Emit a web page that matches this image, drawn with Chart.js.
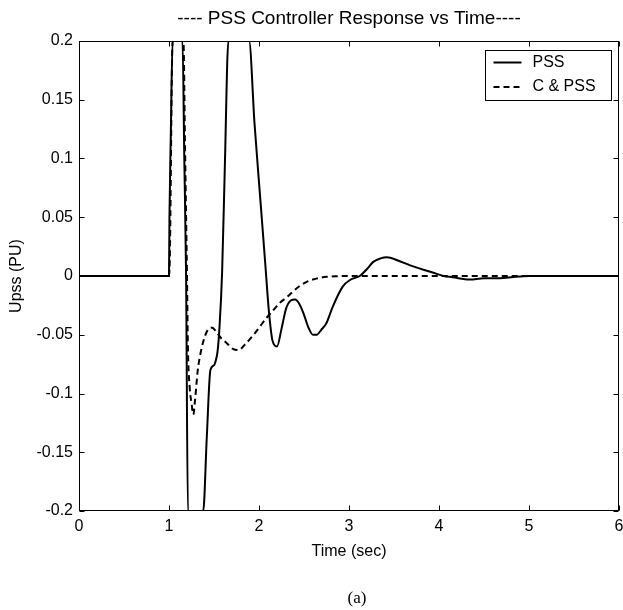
<!DOCTYPE html>
<html>
<head>
<meta charset="utf-8">
<script src="https://cdn.jsdelivr.net/npm/chart.js@4.4.1/dist/chart.umd.min.js"></script>
<style>
  html, body { margin: 0; padding: 0; background: #fff; }
  #wrap { position: relative; width: 623px; height: 610px; }
  #caption { position: absolute; left: 327px; top: 589px; width: 60px; text-align: center;
             font: 17px "Liberation Serif", "Times New Roman", serif; line-height: 17px; color: #000; }
</style>
</head>
<body>
<div id="wrap">
  <canvas id="chart" width="623" height="610"></canvas>
  <div id="caption">(a)</div>
</div>
<script>
// values (output saturates at +/-0.2 PU)
const chartTitle = '---- PSS Controller Response vs Time----';
const xTitle = 'Time (sec)';
const yTitle = 'Upss (PU)';
const seriesNames = ['PSS', 'C & PSS'];

const xTicks = [0, 1, 2, 3, 4, 5, 6];
const xTickLabels = ['0', '1', '2', '3', '4', '5', '6'];
const yTicks = [-0.2, -0.15, -0.1, -0.05, 0, 0.05, 0.1, 0.15, 0.2];
const yTickLabels = ['-0.2', '-0.15', '-0.1', '-0.05', '0', '0.05', '0.1', '0.15', '0.2'];

const pssTime = [0, 1.0, 1.005, 1.02, 1.04, 1.15, 1.17, 1.19, 1.21, 1.38, 1.42, 1.46, 1.5, 1.52,
  1.54, 1.56, 1.59, 1.62, 1.66, 1.89, 1.95, 2.02, 2.07, 2.11, 2.15, 2.2, 2.25, 2.3, 2.35, 2.4,
  2.45, 2.5, 2.55, 2.6, 2.64, 2.69, 2.75, 2.82, 2.93, 3.02, 3.12, 3.2, 3.27, 3.35, 3.42, 3.55,
  3.68, 3.8, 3.93, 4.05, 4.15, 4.34, 4.5, 4.64, 4.8, 5.0, 6.0];
const pssVal = [0, 0, 0.05, 0.12, 0.2, 0.2, 0.1, 0.0, -0.2, -0.2, -0.137, -0.08, -0.076, -0.072,
  -0.064, -0.045, 0.003, 0.092, 0.2, 0.2, 0.13, 0.06, 0.01, -0.03, -0.055, -0.06, -0.045, -0.028,
  -0.021, -0.02, -0.024, -0.033, -0.044, -0.05, -0.05, -0.046, -0.04, -0.026, -0.009, -0.003,
  0.0, 0.006, 0.012, 0.015, 0.016, 0.013, 0.009, 0.006, 0.003, 0.0, -0.001, -0.003, -0.002,
  -0.002, -0.001, 0, 0];

const cpssTime = [0, 1.0, 1.01, 1.04, 1.16, 1.18, 1.2, 1.21, 1.23, 1.25, 1.27, 1.29, 1.32, 1.35,
  1.38, 1.43, 1.48, 1.53, 1.58, 1.64, 1.71, 1.77, 1.86, 1.94, 2.01, 2.08, 2.16, 2.23, 2.31, 2.38,
  2.46, 2.53, 2.6, 2.68, 2.75, 2.85, 3.0, 6.0];
const cpssVal = [0, 0, 0.02, 0.2, 0.2, 0.1, 0.0, -0.06, -0.095, -0.108, -0.118, -0.105, -0.08,
  -0.066, -0.056, -0.046, -0.044, -0.048, -0.053, -0.057, -0.062, -0.063, -0.057, -0.05, -0.043,
  -0.036, -0.029, -0.023, -0.018, -0.013, -0.008, -0.005, -0.003, -0.0015, -0.0007, -0.0002, 0, 0];

const sans = '"Liberation Sans", Arial, sans-serif';

function toPoints(xs, ys) {
  return xs.map((t, i) => ({ x: t, y: ys[i] }));
}

// box round the plot, inward ticks on all four sides, legend inside top right
const framePlugin = {
  id: 'frame',
  afterDraw(chart) {
    const { ctx, chartArea: a, scales: { x, y } } = chart;
    const L = Math.round(a.left) + 0.5, R = Math.round(a.right) - 0.5;
    const T = Math.round(a.top) + 0.5, B = Math.round(a.bottom) - 0.5;
    ctx.save();
    ctx.strokeStyle = '#000';
    ctx.lineWidth = 1;
    ctx.setLineDash([]);
    ctx.strokeRect(L, T, R - L, B - T);
    ctx.beginPath();
    xTicks.forEach(v => {
      const px = Math.round(x.getPixelForValue(v)) + 0.5;
      ctx.moveTo(px, B); ctx.lineTo(px, B - 5);
      ctx.moveTo(px, T); ctx.lineTo(px, T + 5);
    });
    yTicks.forEach(v => {
      const py = Math.round(y.getPixelForValue(v)) + 0.5;
      ctx.moveTo(L, py); ctx.lineTo(L + 5, py);
      ctx.moveTo(R, py); ctx.lineTo(R - 5, py);
    });
    ctx.stroke();

    // legend
    const bw = 126, bh = 50;
    const bx = Math.round(a.right) - 8 - bw + 0.5, by = Math.round(a.top) + 9 + 0.5;
    ctx.fillStyle = '#fff';
    ctx.fillRect(bx, by, bw, bh);
    ctx.strokeRect(bx, by, bw, bh);
    ctx.font = '16px ' + sans;
    ctx.textBaseline = 'middle';
    chart.data.datasets.forEach((ds, i) => {
      const ly = by + 12 + i * 24.5;
      ctx.beginPath();
      ctx.lineWidth = ds.borderWidth;
      ctx.setLineDash(ds.borderDash || []);
      ctx.moveTo(bx + 8, ly);
      ctx.lineTo(bx + 36, ly);
      ctx.stroke();
      ctx.fillStyle = '#000';
      ctx.fillText(ds.label, bx + 47, ly);
    });
    ctx.restore();
  }
};

new Chart(document.getElementById('chart'), {
  type: 'line',
  data: {
    datasets: [
      {
        label: seriesNames[0],
        data: toPoints(pssTime, pssVal),
        borderColor: '#000',
        borderWidth: 2,
        pointRadius: 0,
        cubicInterpolationMode: 'monotone'
      },
      {
        label: seriesNames[1],
        data: toPoints(cpssTime, cpssVal),
        borderColor: '#000',
        borderWidth: 2,
        borderDash: [6, 4],
        pointRadius: 0,
        cubicInterpolationMode: 'monotone'
      }
    ]
  },
  options: {
    responsive: false,
    animation: false,
    layout: { padding: { right: 4 } },
    plugins: {
      legend: { display: false },
      tooltip: { enabled: false },
      title: {
        display: true,
        text: chartTitle,
        fullSize: false,
        color: '#000',
        font: { family: sans, size: 19, weight: 'normal' },
        padding: { top: 7.6, bottom: 10.6 }
      }
    },
    scales: {
      x: {
        type: 'linear',
        min: 0,
        max: 6,
        afterBuildTicks: s => { s.ticks = xTicks.map(v => ({ value: v })); },
        afterFit: s => { s.height = 99; s.paddingLeft = 0; s.paddingRight = 0; },
        grid: { display: false, drawTicks: false },
        border: { display: false },
        ticks: {
          color: '#000',
          font: { family: sans, size: 16 },
          padding: 6,
          maxRotation: 0,
          callback: (v, i) => xTickLabels[i]
        },
        title: {
          display: true,
          text: xTitle,
          color: '#000',
          font: { family: sans, size: 16 },
          padding: { top: 0, bottom: 49 }
        }
      },
      y: {
        min: -0.2,
        max: 0.2,
        afterBuildTicks: s => { s.ticks = yTicks.map(v => ({ value: v })); },
        afterFit: s => { s.width = 79; },
        grid: { display: false, drawTicks: false },
        border: { display: false },
        ticks: {
          color: '#000',
          font: { family: sans, size: 16 },
          padding: 6,
          callback: (v, i) => yTickLabels[i]
        },
        title: {
          display: true,
          text: yTitle,
          color: '#000',
          font: { family: sans, size: 16 },
          padding: { top: 7.4, bottom: 0 }
        }
      }
    }
  },
  plugins: [framePlugin]
});
</script>
</body>
</html>
